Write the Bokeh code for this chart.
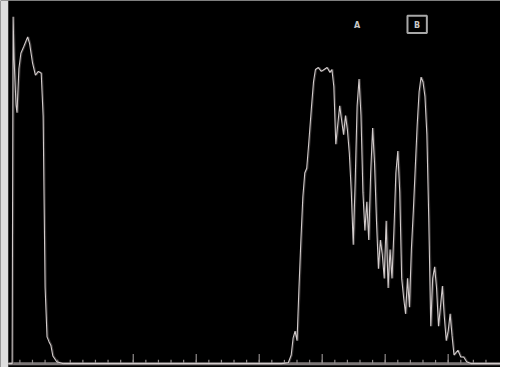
from bokeh.plotting import figure
from bokeh.models import Range1d
from bokeh.core.properties import value
from bokeh.embed import file_html
from bokeh.resources import INLINE

# Trace: channel position and amplitude (amplitude = counts above baseline)
trace_x = [8, 12, 13, 14, 16, 17, 19, 21, 24, 28, 30, 33, 36, 39, 42, 44, 46, 48, 50, 52, 54, 58, 65,
           150, 290, 297, 300, 302, 304, 306, 308, 310, 312, 314, 316, 318, 321, 323, 325, 328, 331, 334,
           337, 340, 342, 344, 346, 348, 350, 352, 354, 356, 358, 360, 362, 364, 366, 368, 370, 372, 374,
           376, 378, 380, 382, 384, 386, 388, 390, 392, 394, 396, 398, 400, 402, 404, 406, 408, 410, 412,
           414, 416, 418, 420, 422, 424, 426, 428, 430, 432, 434, 436, 438, 440, 442, 444, 446, 448, 450,
           452, 454, 456, 458, 460, 462, 464, 466, 468, 472, 475, 478, 481, 486, 516]
trace_y = [0, 0, 362, 318, 270, 262, 308, 324, 331, 341, 334, 314, 301, 305, 303, 258, 80, 28, 23, 19, 8, 2, 0,
           0, 0, 1, 9, 27, 34, 24, 79, 129, 174, 199, 204, 229, 269, 294, 307, 309, 305, 307,
           309, 304, 307, 289, 229, 249, 269, 254, 239, 259, 244, 219, 179, 124, 189, 269, 297, 259, 179,
           139, 169, 129, 199, 246, 209, 149, 99, 129, 114, 89, 149, 79, 119, 89, 139, 199, 222, 179,
           89, 69, 52, 89, 59, 119, 159, 204, 249, 284, 299, 294, 279, 239, 149, 39, 89, 101, 79,
           39, 59, 81, 49, 24, 34, 52, 29, 9, 14, 7, 7, 2, 0, 0]

# Scale ticks along the baseline
minor_ticks = [20 + 13 * i for i in range(38)]
major_ticks = [137, 202, 267, 332, 397, 462]

# Marker labels
label_x = [368, 430]
label_y = [353, 353]
label_text = ["A", "B"]

p = figure(width=500, height=367, output_backend="svg", toolbar_location=None,
           x_range=Range1d(0, 516), y_range=Range1d(-4, 379),
           background_fill_color="black", border_fill_color="black",
           min_border=0, outline_line_color=None)
p.axis.visible = False
p.grid.visible = False

# light left edge of the screen photo
p.quad(left=[0], right=[8], bottom=[-4], top=[379], fill_color="#dedede", line_color=None)

# baseline
p.line([8, 516], [0, 0], line_color="#7d7878", line_width=3)
p.segment(x0=minor_ticks, y0=[0] * len(minor_ticks), x1=minor_ticks, y1=[4] * len(minor_ticks),
          line_color="#8f8a8a", line_width=1.2)
p.segment(x0=major_ticks, y0=[0] * len(major_ticks), x1=major_ticks, y1=[10] * len(major_ticks),
          line_color="#8f8a8a", line_width=1.2)

# ghost + main trace
p.line([x + 1 for x in trace_x], trace_y, line_color="#5a5555", line_width=1.5, line_alpha=0.6)
p.line(trace_x, trace_y, line_color="#d2cbcb", line_width=1.1)

# marker labels
p.rect(x=[label_x[1]], y=[label_y[1] + 1], width=20, height=18, fill_color=None,
       line_color="#a8a8a8", line_width=2)
p.text(x=label_x, y=label_y, text=label_text, text_align="center", text_baseline="middle",
       text_color="#c8c8c8", text_font=value("DejaVu Sans"), text_font_size="8px",
       text_font_style="bold")

open("out.html", "w").write(file_html(p, INLINE))
